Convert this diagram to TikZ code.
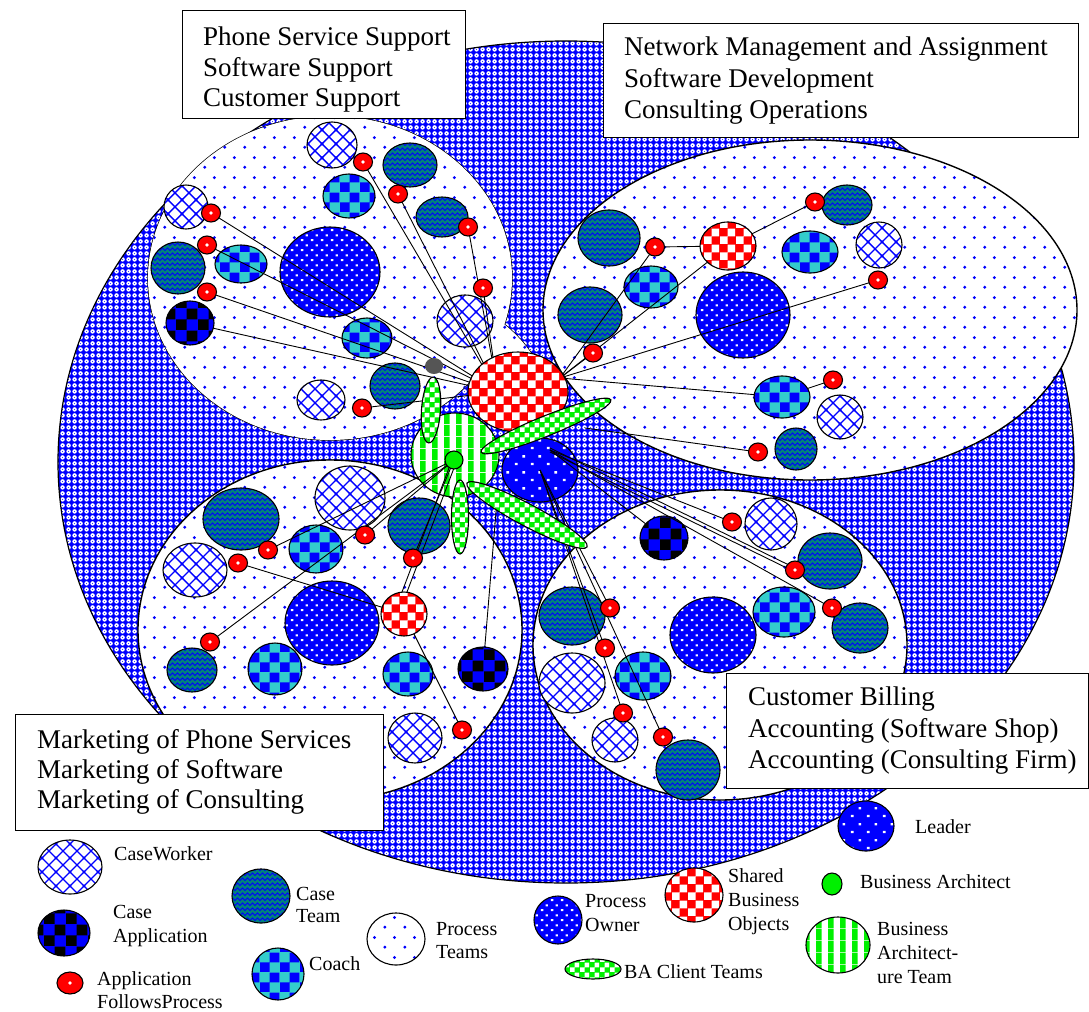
\documentclass[tikz,border=0pt]{standalone}
\usepackage{fontspec}
\setmainfont{Liberation Serif}
\usetikzlibrary{shapes.geometric,patterns}

\pgfdeclarepatternformonly{pdots}{\pgfpointorigin}{\pgfpoint{20bp}{20bp}}{\pgfpoint{20bp}{20bp}}{%
  \pgfpathcircle{\pgfpoint{5bp}{5bp}}{1.7bp}%
  \pgfpathcircle{\pgfpoint{15bp}{15bp}}{1.7bp}%
  \pgfusepath{fill}}
\pgfdeclarepatternformonly{wdots}{\pgfpointorigin}{\pgfpoint{10bp}{10bp}}{\pgfpoint{10bp}{10bp}}{%
  \pgfpathrectangle{\pgfpoint{1bp}{1bp}}{\pgfpoint{2.6bp}{2.2bp}}%
  \pgfpathrectangle{\pgfpoint{6bp}{6bp}}{\pgfpoint{2.6bp}{2.2bp}}%
  \pgfusepath{fill}}
\pgfdeclarepatternformonly{sdots}{\pgfpointorigin}{\pgfpoint{16bp}{16bp}}{\pgfpoint{16bp}{16bp}}{%
  \pgfpathrectangle{\pgfpoint{3bp}{3bp}}{\pgfpoint{2.8bp}{2.4bp}}%
  \pgfpathrectangle{\pgfpoint{11bp}{11bp}}{\pgfpoint{2.8bp}{2.4bp}}%
  \pgfusepath{fill}}
\pgfdeclarepatternformonly{cwlat}{\pgfpoint{-2bp}{-2bp}}{\pgfpoint{16bp}{16bp}}{\pgfpoint{14bp}{14bp}}{%
  \pgfsetlinewidth{1.4bp}%
  \pgfpathmoveto{\pgfpoint{-1bp}{-1bp}}\pgfpathlineto{\pgfpoint{15bp}{15bp}}%
  \pgfpathmoveto{\pgfpoint{-1bp}{15bp}}\pgfpathlineto{\pgfpoint{15bp}{-1bp}}%
  \pgfusepath{stroke}}
\pgfdeclarepatternformonly{chkten}{\pgfpointorigin}{\pgfpoint{20bp}{20bp}}{\pgfpoint{20bp}{20bp}}{%
  \pgfpathrectangle{\pgfpointorigin}{\pgfpoint{10bp}{10bp}}%
  \pgfpathrectangle{\pgfpoint{10bp}{10bp}}{\pgfpoint{10bp}{10bp}}%
  \pgfusepath{fill}}
\pgfdeclarepatternformonly{chkeight}{\pgfpointorigin}{\pgfpoint{16bp}{16bp}}{\pgfpoint{16bp}{16bp}}{%
  \pgfpathrectangle{\pgfpointorigin}{\pgfpoint{8bp}{8bp}}%
  \pgfpathrectangle{\pgfpoint{8bp}{8bp}}{\pgfpoint{8bp}{8bp}}%
  \pgfusepath{fill}}
\pgfdeclarepatternformonly{chkfive}{\pgfpointorigin}{\pgfpoint{10bp}{10bp}}{\pgfpoint{10bp}{10bp}}{%
  \pgfpathrectangle{\pgfpointorigin}{\pgfpoint{5bp}{5bp}}%
  \pgfpathrectangle{\pgfpoint{5bp}{5bp}}{\pgfpoint{5bp}{5bp}}%
  \pgfusepath{fill}}
\pgfdeclarepatternformonly{chkeleven}{\pgfpointorigin}{\pgfpoint{22bp}{22bp}}{\pgfpoint{22bp}{22bp}}{%
  \pgfpathrectangle{\pgfpointorigin}{\pgfpoint{11bp}{11bp}}%
  \pgfpathrectangle{\pgfpoint{11bp}{11bp}}{\pgfpoint{11bp}{11bp}}%
  \pgfusepath{fill}}
\pgfdeclarepatternformonly{ctex}{\pgfpoint{-1bp}{-1bp}}{\pgfpoint{11bp}{11bp}}{\pgfpoint{10bp}{10bp}}{%
  \pgfsetlinewidth{0.8bp}%
  \pgfpathmoveto{\pgfpoint{0bp}{1.5bp}}\pgfpathlineto{\pgfpoint{2.5bp}{4bp}}\pgfpathlineto{\pgfpoint{5bp}{1.5bp}}\pgfpathlineto{\pgfpoint{7.5bp}{4bp}}\pgfpathlineto{\pgfpoint{10bp}{1.5bp}}%
  \pgfpathmoveto{\pgfpoint{0bp}{6.5bp}}\pgfpathlineto{\pgfpoint{2.5bp}{9bp}}\pgfpathlineto{\pgfpoint{5bp}{6.5bp}}\pgfpathlineto{\pgfpoint{7.5bp}{9bp}}\pgfpathlineto{\pgfpoint{10bp}{6.5bp}}%
  \pgfusepath{stroke}}
\pgfdeclarepatternformonly{vstripes}{\pgfpointorigin}{\pgfpoint{12bp}{12bp}}{\pgfpoint{12bp}{12bp}}{%
  \pgfpathrectangle{\pgfpointorigin}{\pgfpoint{6bp}{12bp}}\pgfusepath{fill}}
\pgfdeclarepatternformonly{meshholes}{\pgfpointorigin}{\pgfpoint{6bp}{6bp}}{\pgfpoint{6bp}{6bp}}{%
  \pgfseteorule
  \pgfpathcircle{\pgfpoint{3bp}{3bp}}{2.6bp}%
  \pgfpathcircle{\pgfpoint{3bp}{3bp}}{0.9bp}%
  \pgfusepath{fill}}

\definecolor{coachc}{RGB}{51,204,204}
\definecolor{ctfill}{RGB}{0,128,128}
\definecolor{bagreen}{RGB}{0,240,0}
\definecolor{blobgray}{RGB}{85,85,85}

\pgfdeclarelayer{lzero}
\pgfdeclarelayer{lone}
\pgfdeclarelayer{ltwo}
\pgfdeclarelayer{lthree}
\pgfsetlayers{lzero,lone,ltwo,lthree,main}

\tikzset{
  ol/.style={draw=black, line width=1.1bp, ellipse, inner sep=0pt, outer sep=0pt},
  sz/.style 2 args={minimum width=#1bp, minimum height=#2bp},
  bgst/.style={ol, line width=1.2bp, preaction={fill=blue}, pattern=meshholes, pattern color=white},
  pteam/.style={ol, line width=1.4bp, preaction={fill=white}, pattern=pdots, pattern color=blue},
  pteamf/.style={ellipse, inner sep=0pt, outer sep=0pt, draw=none, preaction={fill=white}, pattern=pdots, pattern color=blue},
  lead/.style={ol, preaction={fill=blue}, pattern=wdots, pattern color=white},
  leads/.style={ol, preaction={fill=blue}, pattern=sdots, pattern color=white},
  cw/.style={ol, preaction={fill=white}, pattern=cwlat, pattern color=blue},
  ct/.style={ol, preaction={fill=ctfill}, pattern=ctex, pattern color=blue},
  coach/.style={ol, preaction={fill=coachc}, pattern=chkten, pattern color=blue},
  capp/.style={ol, preaction={fill=blue}, pattern=chkeleven, pattern color=black},
  sbo/.style={ol, preaction={fill=red}, pattern=chkeight, pattern color=white},
  app/.style={ol, fill=red, minimum width=19bp, minimum height=18bp,
    path picture={\fill[white] (path picture bounding box.center) circle (1.8bp);}},
  ba/.style={ol, fill=bagreen},
  bat/.style={ol, preaction={fill=white}, pattern=vstripes, pattern color=bagreen},
  bacl/.style={ol, preaction={fill=bagreen}, pattern=chkfive, pattern color=white},
  blob/.style={ellipse, inner sep=0pt, fill=blobgray},
  tbox/.style={draw=black, line width=1.3bp, fill=white, rectangle, inner sep=0pt, anchor=north west},
  bt/.style={anchor=base west, inner sep=0pt, font=\fontsize{27bp}{31bp}\selectfont},
  lt/.style={anchor=base west, inner sep=0pt, font=\fontsize{20bp}{24bp}\selectfont},
  conn/.style={draw=black, line width=0.9bp},
}

\begin{document}
\begin{tikzpicture}[x=1bp,y=-1bp]
\useasboundingbox (0,0) rectangle (1089,1012);

\begin{pgfonlayer}{lzero}
% background
\node[bgst, sz={1016}{842}] (bg) at (566,462) {};
% process team regions
\node[pteam, sz={364}{324}] (q1) at (330,278) {};
\node[pteam, sz={110}{44}, rotate=-45] (q1b) at (500,350) {};
\node[pteamf, sz={364}{324}] (q1f) at (330,278) {};
\node[pteamf, sz={110}{44}, rotate=-45] (q1bf) at (500,350) {};
\node[pteam, sz={534}{340}] (q2) at (810,310) {};
\node[pteam, sz={384}{340}] (q3) at (330,630) {};
\node[pteam, sz={374}{310}] (q4) at (720,645) {};

% top-left members
\node[cw, sz={50}{46}] (cw1) at (332,145) {};
\node[ct, sz={54}{44}] (ct1) at (410,165) {};
\node[coach, sz={52}{44}] (co1) at (349,196) {};
\node[ct, sz={52}{40}] (ct2) at (442,217) {};
\node[cw, sz={44}{44}] (cw2) at (186,207) {};
\node[ct, sz={54}{52}] (ct3) at (178,268) {};
\node[coach, sz={52}{38}] (co2) at (241,264) {};
\node[capp, sz={48}{44}] (ca1) at (190,323) {};
\node[lead, sz={100}{90}] (ld1) at (330,272) {};
\node[coach, sz={50}{40}] (co3) at (367,338) {};
\node[cw, sz={56}{52}] (cw3) at (465,321) {};
\node[ct, sz={50}{46}] (ct4) at (395,386) {};
\node[cw, sz={48}{40}] (cw4) at (321,400) {};

% top-right members
\node[ct, sz={62}{56}] (ct5) at (609,238) {};
\node[sbo, sz={56}{48}] (sb2) at (728,246) {};
\node[ct, sz={50}{40}] (ct6) at (847,205) {};
\node[coach, sz={56}{42}] (co4) at (810,252) {};
\node[cw, sz={46}{46}] (cw5) at (879,245) {};
\node[coach, sz={54}{42}] (co5) at (651,287) {};
\node[ct, sz={64}{56}] (ct7) at (590,315) {};
\node[lead, sz={94}{86}] (ld2) at (743,315) {};
\node[coach, sz={56}{42}] (co6) at (782,397) {};
\node[cw, sz={46}{44}] (cw6) at (840,417) {};
\node[ct, sz={42}{42}] (ct8) at (796,449) {};

% bottom-left members
\node[cw, sz={70}{64}] (cw7) at (350,498) {};
\node[ct, sz={76}{62}] (ct9) at (241,519) {};
\node[coach, sz={54}{48}] (co7) at (316,549) {};
\node[ct, sz={62}{56}] (ct10) at (419,526) {};
\node[cw, sz={64}{54}] (cw8) at (195,570) {};
\node[lead, sz={94}{84}] (ld3) at (332,623) {};
\node[sbo, sz={46}{44}] (sb3) at (404,614) {};
\node[ct, sz={50}{44}] (ct11) at (192,670) {};
\node[coach, sz={54}{52}] (co8) at (275,669) {};
\node[coach, sz={50}{44}] (co9) at (408,674) {};
\node[capp, sz={50}{44}] (ca2) at (483,669) {};
\node[cw, sz={54}{50}] (cw9) at (415,738) {};

% bottom-right members
\node[capp, sz={48}{44}] (ca3) at (664,538) {};
\node[cw, sz={52}{52}] (cw10) at (771,524) {};
\node[ct, sz={64}{56}] (ct12) at (830,561) {};
\node[ct, sz={66}{58}] (ct13) at (572,616) {};
\node[lead, sz={86}{76}] (ld4) at (713,635) {};
\node[coach, sz={62}{50}] (co10) at (784,612) {};
\node[ct, sz={56}{50}] (ct14) at (860,628) {};
\node[cw, sz={66}{60}] (cw11) at (572,683) {};
\node[coach, sz={56}{48}] (co11) at (643,676) {};
\node[cw, sz={46}{44}] (cw12) at (615,740) {};
\node[ct, sz={64}{60}] (ct15) at (688,770) {};

% process owner
\node[leads, sz={76}{64}] (po) at (540,470) {};
\end{pgfonlayer}

\begin{pgfonlayer}{ltwo}
\node[bat, sz={88}{84}] (bat) at (455,455) {};
\node[sbo, sz={100}{80}] (sb1) at (518,392) {};
\end{pgfonlayer}

% BA client teams, business architect
\node[bacl, sz={66}{19}, rotate=86] (e1) at (431,410) {};
\node[bacl, sz={74}{17}, rotate=90] (e2) at (460,517) {};
\node[bacl, sz={140}{20}, rotate=22] (e3) at (546,426) {};
\node[bacl, sz={136}{22}, rotate=-28] (e4) at (527,515) {};
\node[ba, sz={18}{18}] (bad) at (454,460) {};
\node[blob, sz={18}{16}] (gb) at (434,366) {};

% applications
\node[app] (a1) at (363,162) {};
\node[app] (a2) at (398,194) {};
\node[app] (a3) at (468,227) {};
\node[app] (a4) at (483,288) {};
\node[app] (a5) at (211,213) {};
\node[app] (a6) at (207,245) {};
\node[app] (a7) at (207,292) {};
\node[app] (a8) at (362,408) {};
\node[app] (a9) at (655,247) {};
\node[app] (a10) at (815,202) {};
\node[app] (a11) at (878,280) {};
\node[app] (a12) at (593,353) {};
\node[app] (a13) at (833,380) {};
\node[app] (a14) at (758,452) {};
\node[app] (a15) at (268,550) {};
\node[app] (a16) at (365,535) {};
\node[app] (a17) at (413,558) {};
\node[app] (a18) at (238,563) {};
\node[app] (a19) at (210,642) {};
\node[app] (a20) at (462,730) {};
\node[app] (a21) at (732,522) {};
\node[app] (a22) at (795,570) {};
\node[app] (a23) at (832,608) {};
\node[app] (a24) at (610,608) {};
\node[app] (a25) at (605,648) {};
\node[app] (a26) at (623,713) {};
\node[app] (a27) at (663,737) {};

% hubs
\coordinate (hTL) at (498,392);
\coordinate (hTR) at (560,378);
\coordinate (hTRb) at (585,428);
\coordinate (hBR) at (550,450);
\coordinate (hBL) at (497,500);

\begin{pgfonlayer}{lone}
\foreach \n in {a1,a2,a3,a4,a5,a6,a7,ca1,a8}{\draw[conn] (\n) -- (hTL);}
\foreach \n in {a12,a9,sb2,a11,co6}{\draw[conn] (\n) -- (hTR);}
\draw[conn] (a9) -- (sb2);
\draw[conn] (sb2) -- (a10);
\draw[conn] (co6) -- (a13);
\draw[conn] (a14) -- (hTRb);
\foreach \n in {ca3,a21,a23}{\draw[conn] (\n) -- (hBR);}
\draw[conn] ([yshift=-2bp]a22.center) -- ([yshift=-2bp]hBR);
\draw[conn] ([yshift=2bp]a22.center) -- ([yshift=2bp]hBR);
\foreach \n in {a24,a25,a26,a27}{\draw[conn] (po.center) -- (\n);}
\end{pgfonlayer}

\begin{pgfonlayer}{lthree}
\foreach \n in {a15,a16,a17,a19}{\draw[conn] (\n) -- (bad.center);}
\draw[conn] (a18) -- (sb3);
\draw[conn] ([xshift=-2bp]sb3.north) -- ([xshift=-2bp]bad.center);
\draw[conn] ([xshift=3bp]sb3.north) -- ([xshift=3bp]bad.center);
\draw[conn] (sb3) -- (a20);
\draw[conn] (ca2) -- (hBL);
\end{pgfonlayer}

% text boxes
\node[tbox, minimum width=283bp, minimum height=108bp] (b1) at (182,10) {};
\node[bt] (t1a) at (203,45) {Phone Service Support};
\node[bt] (t1b) at (203,76) {Software Support};
\node[bt] (t1c) at (203,106) {Customer Support};

\node[tbox, minimum width=475bp, minimum height=114bp] (b2) at (603,23) {};
\node[bt] (t2a) at (624,55) {Network Management and Assignment};
\node[bt] (t2b) at (624,87) {Software Development};
\node[bt] (t2c) at (624,118) {Consulting Operations};

\node[tbox, minimum width=362bp, minimum height=115bp] (b3) at (726,673) {};
\node[bt] (t3a) at (748,705) {Customer Billing};
\node[bt] (t3b) at (748,737) {Accounting (Software Shop)};
\node[bt] (t3c) at (748,768) {Accounting (Consulting Firm)};

\node[tbox, minimum width=368bp, minimum height=116bp] (b4) at (15,714) {};
\node[bt] (t4a) at (37,748) {Marketing of Phone Services};
\node[bt] (t4b) at (37,778) {Marketing of Software};
\node[bt] (t4c) at (37,808) {Marketing of Consulting};

% legend
\node[cw, sz={64}{54}] (L1) at (70,867) {};
\node[lt] (L1t) at (114,860) {CaseWorker};
\node[capp, sz={52}{46}] (L2) at (64,933) {};
\node[lt] (L2t) at (113,918) {Case};
\node[lt] (L2u) at (113,942) {Application};
\node[app, sz={26}{22}] (L3) at (70,983) {};
\node[lt] (L3t) at (97,985) {Application};
\node[lt] (L3u) at (97,1008) {FollowsProcess};
\node[ct, sz={58}{54}] (L4) at (261,896) {};
\node[lt] (L4t) at (296,900) {Case};
\node[lt] (L4u) at (296,922) {Team};
\node[coach, sz={52}{52}] (L5) at (278,974) {};
\node[lt] (L5t) at (309,970) {Coach};
\node[pteam, line width=1.1bp, sz={58}{52}] (L6) at (396,939) {};
\node[lt] (L6t) at (436,935) {Process};
\node[lt] (L6u) at (436,958) {Teams};
\node[lead, sz={48}{48}] (L7) at (558,920) {};
\node[lt] (L7t) at (585,907) {Process};
\node[lt] (L7u) at (585,931) {Owner};
\node[sbo, sz={58}{54}] (L8) at (694,895) {};
\node[lt] (L8t) at (728,882) {Shared};
\node[lt] (L8u) at (728,906) {Business};
\node[lt] (L8v) at (728,930) {Objects};
\node[bacl, sz={56}{20}] (L9) at (593,969) {};
\node[lt] (L9t) at (624,978) {BA Client Teams};
\node[leads, sz={56}{50}] (L10) at (866,826) {};
\node[lt] (L10t) at (915,833) {Leader};
\node[ba, sz={20}{22}] (L11) at (832,884) {};
\node[lt] (L11t) at (860,888) {Business Architect};
\node[bat, sz={64}{56}] (L12) at (838,945) {};
\node[lt] (L12t) at (877,935) {Business};
\node[lt] (L12u) at (877,959) {Architect-};
\node[lt] (L12v) at (877,983) {ure Team};
\end{tikzpicture}
\end{document}
